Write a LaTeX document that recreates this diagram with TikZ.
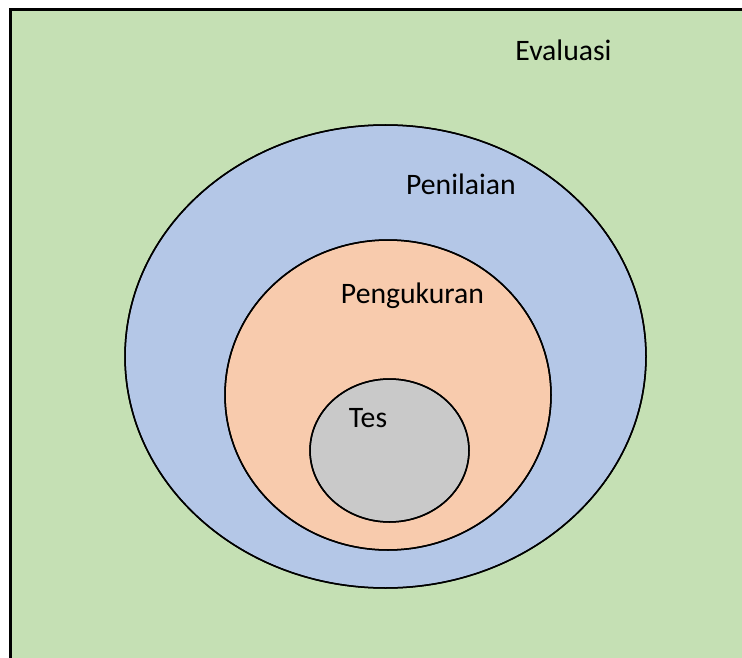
\documentclass[tikz,border=0pt]{standalone}
\usepackage{fontspec}
\setmainfont{Carlito}
\usetikzlibrary{shapes.geometric}
\definecolor{evalgreen}{RGB}{197,224,180}
\definecolor{penblue}{RGB}{180,199,231}
\definecolor{pengorange}{RGB}{248,203,173}
\definecolor{tesgray}{RGB}{201,201,201}
\tikzset{
  ring/.style={draw=black, line width=1.5pt},
  lbl/.style={font=\fontsize{29.7}{31}\selectfont, inner sep=0pt, text=black}
}
\begin{document}
\begin{tikzpicture}[x=1pt,y=-1pt]
\useasboundingbox (0,0) rectangle (742,658);
\clip (0,0) rectangle (742,658);
\fill[white] (0,0) rectangle (742,658);
\draw[fill=evalgreen, line width=3pt] (10,10) rectangle (760,680);
\fill[ring, fill=penblue] (385.5,356.5) ellipse [x radius=260.5, y radius=231.5];
\fill[ring, fill=pengorange] (388,395) ellipse [x radius=163, y radius=155];
\fill[ring, fill=tesgray] (389.5,450.5) ellipse [x radius=79.5, y radius=71.5];
\draw[ring] (385.5,356.5) ellipse [x radius=260.5, y radius=231.5];
\draw[ring] (388,395) ellipse [x radius=163, y radius=155];
\draw[ring] (389.5,450.5) ellipse [x radius=79.5, y radius=71.5];
\node[lbl] (evaluasi) at (563.5,50) {Evaluasi};
\node[lbl] (penilaian) at (461,184) {Penilaian};
\node[lbl] (pengukuran) at (412.5,296) {Pengukuran};
\node[lbl] (tes) at (368,418) {Tes};
\end{tikzpicture}
\end{document}
